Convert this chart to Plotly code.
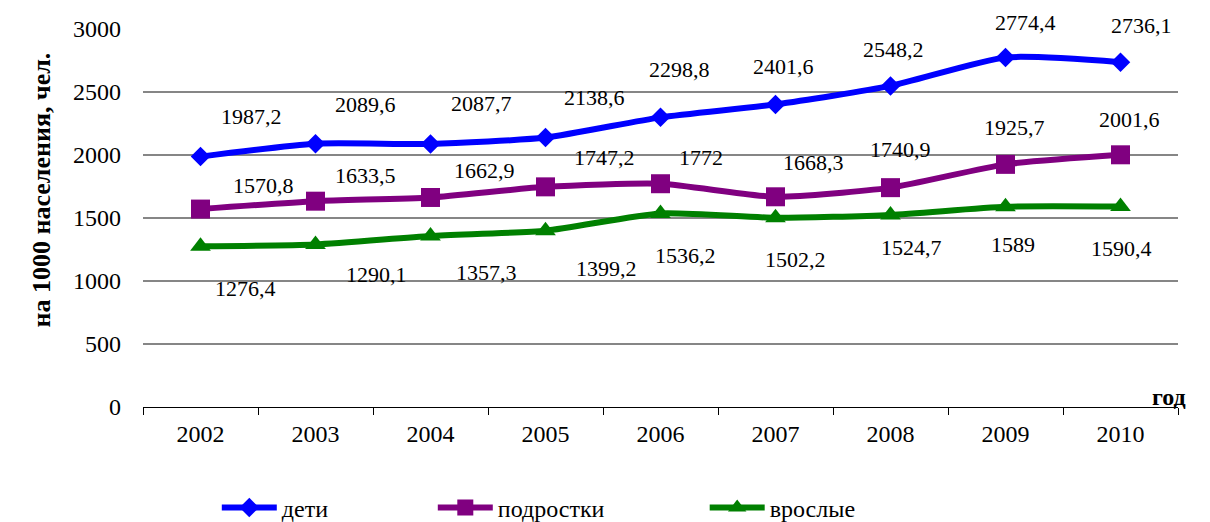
import plotly.graph_objects as go

# ---- data ----
years = ["2002", "2003", "2004", "2005", "2006", "2007", "2008", "2009", "2010"]
children = [1987.2, 2089.6, 2087.7, 2138.6, 2298.8, 2401.6, 2548.2, 2774.4, 2736.1]
teens = [1570.8, 1633.5, 1662.9, 1747.2, 1772, 1668.3, 1740.9, 1925.7, 2001.6]
adults = [1276.4, 1290.1, 1357.3, 1399.2, 1536.2, 1502.2, 1524.7, 1589, 1590.4]

y_ticks = [0, 500, 1000, 1500, 2000, 2500, 3000]

# label offsets in pixels (dx, dy) — hand-placed in the original
children_off = [(51, 40), (50, 39), (51, 40), (49, 40), (19, 48), (8, 38), (3, 36), (20, 35), (21, 37)]
teens_off = [(63, 24), (50, 26), (54, 27), (59, 29), (40, 26), (38, 34), (10, 38), (9, 37), (9, 35)]
adults_off = [(45, -42), (61, -30), (56, -37), (61, -38), (25, -42), (20, -42), (21, -33), (7, -38), (1, -42)]

FONT = "Liberation Serif, Times New Roman, serif"

series = [
    ("дети", children, "#0000FF", "diamond", 15, children_off, "legend", 0.0713),
    ("подростки", teens, "#800080", "square", 19, teens_off, "legend2", 0.280),
    ("врослые", adults, "#008000", "triangle-up", 18, adults_off, "legend3", 0.5427),
]


def fmt(v):
    return f"{v:g}".replace(".", ",")


fig = go.Figure()
annotations = []

for name, vals, color, symbol, msize, offs, leg, _ in series:
    fig.add_trace(go.Scatter(
        x=years, y=vals, name=name, mode="lines+markers",
        line=dict(color=color, width=6, shape="spline", smoothing=0.6),
        marker=dict(symbol=symbol, size=msize, color=color),
        legend=leg,
    ))
    # category index keeps annotations on the same axis positions as the points
    for i, (v, (dx, dy)) in enumerate(zip(vals, offs)):
        annotations.append(dict(
            x=i, y=v, text=fmt(v), showarrow=False,
            xshift=dx, yshift=dy,
            font=dict(family=FONT, size=22, color="black"),
        ))

# axis titles
annotations.append(dict(
    xref="paper", yref="paper", x=-0.114, y=0.574,
    text="<b>на 1000 населения, чел.</b>", showarrow=False, textangle=-90,
    font=dict(family=FONT, size=26, color="black"),
))
annotations.append(dict(
    xref="paper", yref="paper", x=1.0097, y=-0.013,
    text="<b>год</b>", showarrow=False,
    font=dict(family=FONT, size=24, color="black"),
))

legend_style = dict(
    orientation="h", yanchor="middle", xanchor="left", y=-0.267,
    font=dict(family=FONT, size=24, color="black"),
    bgcolor="rgba(0,0,0,0)", itemwidth=55,
)
layout_legends = {}
for _, _, _, _, _, _, leg, lx in series:
    layout_legends[leg] = dict(legend_style, x=lx)

# the page body has an 8px margin, so the figure is drawn 8px smaller
fig.update_layout(
    width=1202, height=514,
    margin=dict(l=135, r=32, t=21, b=115, autoexpand=False),
    paper_bgcolor="white", plot_bgcolor="white",
    font=dict(family=FONT, size=24, color="black"),
    annotations=annotations,
    showlegend=True,
    **layout_legends,
)

fig.update_xaxes(
    type="category", range=[-0.5, len(years) - 0.5], automargin=False,
    showgrid=False, showline=True, linecolor="black", linewidth=1,
    ticks="outside", tickson="boundaries", ticklen=7, tickcolor="black",
    ticklabelstandoff=5,
    tickfont=dict(family=FONT, size=24), zeroline=False, tickangle=0,
)
fig.update_yaxes(
    range=[0, 3000], tickvals=y_ticks, automargin=False,
    showgrid=True, gridcolor="#868686", gridwidth=1.5,
    showline=False, zeroline=False, ticks="", ticklabelstandoff=21,
    tickfont=dict(family=FONT, size=24),
)

fig.write_html("out.html")
